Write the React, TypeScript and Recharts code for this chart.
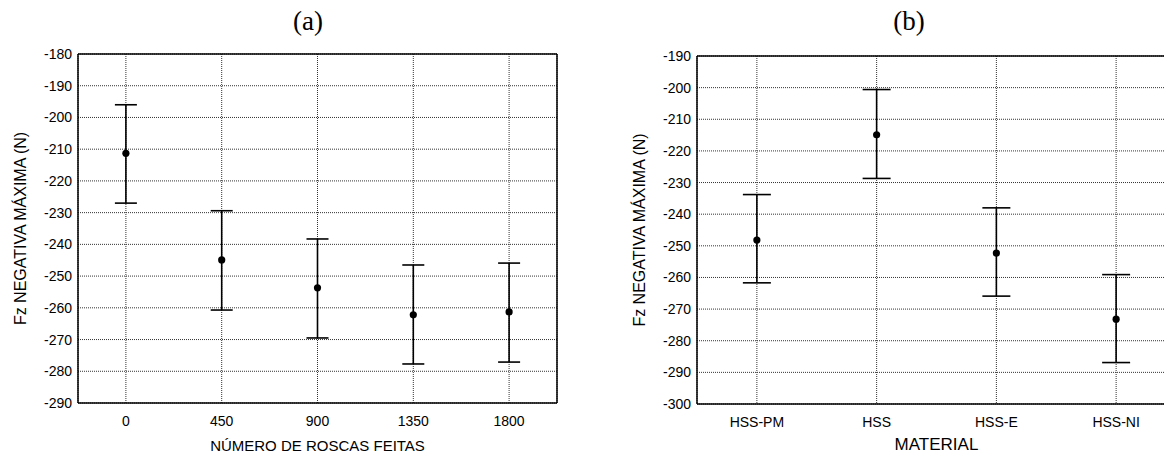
import React from 'react';
import { ComposedChart, Scatter, ErrorBar, XAxis, YAxis, CartesianGrid, ReferenceLine } from 'recharts';

// (a) número de roscas feitas
const roscas = ['0', '450', '900', '1350', '1800'];
const roscasMean = [-211.3, -244.9, -253.7, -262.2, -261.3];
const roscasHigh = [-196.0, -229.4, -238.3, -246.5, -245.9];
const roscasLow = [-227.0, -260.7, -269.5, -277.7, -277.1];
const ticksA = [-180, -190, -200, -210, -220, -230, -240, -250, -260, -270, -280, -290];

// (b) material
const materiais = ['HSS-PM', 'HSS', 'HSS-E', 'HSS-NI'];
const materialMean = [-248.2, -214.9, -252.3, -273.2];
const materialHigh = [-233.8, -200.6, -238.0, -259.1];
const materialLow = [-261.7, -228.7, -265.9, -286.9];
const ticksB = [-190, -200, -210, -220, -230, -240, -250, -260, -270, -280, -290, -300];

const FONT = '"Liberation Sans", Arial, sans-serif';
const Y_LABEL = 'Fz NEGATIVA MÁXIMA (N)';

const buildRows = (mean: number[], low: number[], high: number[]) =>
  mean.map((m, i) => ({ x: i, mean: m, err: [m - low[i], high[i] - m] }));

const Dot = (p: any) => <circle cx={p.cx} cy={p.cy} r={3.6} fill="#000" />;

interface PanelProps {
  names: string[];
  mean: number[];
  low: number[];
  high: number[];
  ticks: number[];
  xLabel: string;
  xLabelSize: number;
  xLabelOffset: number;
  top: number;
  cap: number;
  border: boolean;
}

function Panel({ names, mean, low, high, ticks, xLabel, xLabelSize, xLabelOffset, top, cap, border }: PanelProps) {
  const rows = buildRows(mean, low, high);
  const yMax = ticks[0];
  const yMin = ticks[ticks.length - 1];
  const xMax = names.length - 0.5;
  return (
    <ComposedChart width={581} height={453} data={rows} margin={{ top, right: 24, bottom: 0, left: 0 }}>
      <CartesianGrid stroke="#333" strokeDasharray="1 1" strokeWidth={1} />
      <XAxis
        type="number"
        dataKey="x"
        domain={[-0.5, xMax]}
        ticks={names.map((_, i) => i)}
        tickFormatter={(v: number) => names[v] ?? ''}
        height={453 - 403 - (top === 54 ? 0 : 1)}
        tickLine={false}
        tickMargin={7}
        axisLine={{ stroke: '#000', strokeWidth: 1.5 }}
        tick={{ fill: '#000', fontSize: 14, fontFamily: FONT }}
        allowDataOverflow
        label={{ value: xLabel, position: 'insideBottom', offset: xLabelOffset, fill: '#000', fontSize: xLabelSize, fontFamily: FONT }}
      />
      <YAxis
        type="number"
        domain={[yMin, yMax]}
        ticks={ticks}
        width={78}
        tickLine={false}
        tickSize={4}
        tickMargin={2}
        interval={0}
        axisLine={{ stroke: '#000', strokeWidth: 1.5 }}
        tick={{ fill: '#000', fontSize: 14, fontFamily: FONT }}
        allowDataOverflow
        label={{ value: Y_LABEL, angle: -90, position: 'insideLeft', offset: 20, fill: '#000', fontSize: 16, fontFamily: FONT, style: { textAnchor: 'middle' } }}
      />
      <ReferenceLine y={yMax} stroke="#000" strokeWidth={1.5} />
      {border && <ReferenceLine x={xMax} stroke="#000" strokeWidth={1.5} />}
      <Scatter dataKey="mean" shape={Dot} isAnimationActive={false}>
        <ErrorBar dataKey="err" direction="y" width={cap} stroke="#000" strokeWidth={1.6} />
      </Scatter>
    </ComposedChart>
  );
}

export default function App() {
  return (
    <div style={{ position: 'fixed', left: 0, top: 0, width: 1164, height: 453, overflow: 'hidden', background: '#fff', fontFamily: FONT }}>
      <div style={{ position: 'absolute', left: 0, top: 0 }}>
        <Panel names={roscas} mean={roscasMean} low={roscasLow} high={roscasHigh} ticks={ticksA}
          xLabel="NÚMERO DE ROSCAS FEITAS" xLabelSize={15} xLabelOffset={2} top={54} cap={11} border />
      </div>
      <div style={{ position: 'absolute', left: 619, top: 0 }}>
        <Panel names={materiais} mean={materialMean} low={materialLow} high={materialHigh} ticks={ticksB}
          xLabel="MATERIAL" xLabelSize={17} xLabelOffset={3} top={56} cap={14} border={false} />
      </div>
      <div style={{ position: 'absolute', left: 248, top: 4, width: 120, textAlign: 'center', fontFamily: '"Liberation Serif", "Times New Roman", serif', fontSize: 27, lineHeight: '34px' }}>(a)</div>
      <div style={{ position: 'absolute', left: 849, top: 4, width: 120, textAlign: 'center', fontFamily: '"Liberation Serif", "Times New Roman", serif', fontSize: 27, lineHeight: '34px' }}>(b)</div>
    </div>
  );
}
